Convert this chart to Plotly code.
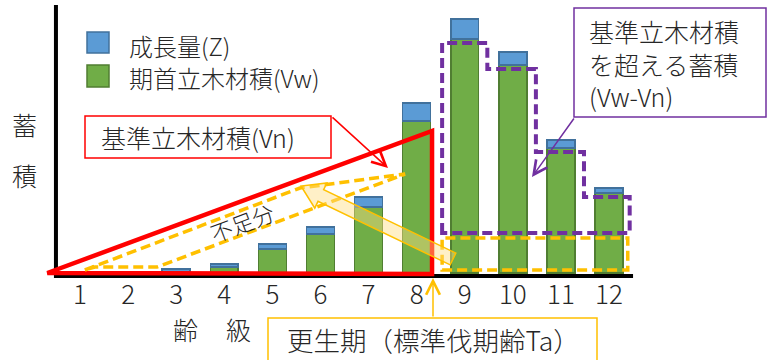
import numpy as np
import plotly.graph_objects as go

# ---- data (arbitrary volume units) ----
age_class = list(range(1, 13))
tick_labels = [str(i) for i in age_class]
vw_initial = [0, 0, 1, 6, 24, 39, 66, 152, 234, 208, 125, 80]   # 期首立木材積(Vw)
growth_z = [0, 0, 3, 3, 5, 7, 10, 18, 20, 13, 8, 5]             # 成長量(Z)
ta_class = 8.32          # 標準伐期齢 Ta position
vn_at_ta = 142           # 基準立木材積 at Ta
excess_base = 40         # base level of the excess outline
excess_edges = [8.53, 9.47, 10.48, 11.48, 12.43]

FONT = "Noto Sans CJK JP"
TXT = "#262626"
GREEN, GREEN_L = "#70AD47", "#507E32"
BLUE, BLUE_L = "#5B9BD5", "#41719C"
RED, PURPLE, GOLD = "#FF0000", "#7030A0", "#FFC000"

W, H = 771, 360
ML, MR, MT, MB = 40, 111, 0, 80
PW, PH = W - ML - MR, H - MT - MB

# axis ranges: category 1 at px 80, category 12 at px 609, value 0 at py 273
scale = (609 - 80) / 11
x0 = 1 - (80 - ML) / scale
x1 = x0 + PW / scale
y_top = 273 - MT
y_bot = 273 - (MT + PH)


def P(px, py):
    return (px - ML) / PW, (MT + PH - py) / PH


fig = go.Figure()
fig.add_trace(go.Bar(x=age_class, y=vw_initial, name="期首立木材積(Vw)", width=0.58,
                     marker=dict(color=GREEN, line=dict(color=GREEN_L, width=1.5))))
fig.add_trace(go.Bar(x=age_class, y=growth_z, name="成長量(Z)", width=0.58,
                     marker=dict(color=BLUE, line=dict(color=BLUE_L, width=1.5))))

shapes = []
# black axes
shapes.append(dict(type="line", xref="x", yref="y", x0=0.5, x1=12.5, y0=-3, y1=-3,
                   line=dict(color="black", width=4)))
shapes.append(dict(type="line", xref="x", yref="y", x0=0.5, x1=0.5, y0=-5, y1=268,
                   line=dict(color="black", width=4)))
# Vn triangle
shapes.append(dict(type="path", xref="x", yref="y",
                   path=f"M 0.32,0 L {ta_class},{vn_at_ta} L {ta_class},-1 L 0.32,0 Z",
                   line=dict(color=RED, width=4.5)))
# shortfall dashed outline
short_pts = [(1.10, 3), (5.575, 85), (7.76, 99), (2.60, 6), (1.31, 6)]
shapes.append(dict(type="path", xref="x", yref="y",
                   path="M " + " L ".join(f"{a},{b}" for a, b in short_pts) + " Z",
                   line=dict(color=GOLD, width=3.5, dash="10px,5px")))
# yellow dashed rectangle (bottom part after Ta)
shapes.append(dict(type="rect", xref="x", yref="y", x0=8.53, x1=12.39, y0=3, y1=35,
                   line=dict(color=GOLD, width=3.5, dash="10px,5px")))
# purple dashed excess outline derived from bar tops
tops = [vw_initial[i] - 4 for i in range(8, 12)]
pp = [f"M {excess_edges[0]},{excess_base}", f"L {excess_edges[0]},{tops[0]}"]
for k in range(4):
    pp.append(f"L {excess_edges[k + 1]},{tops[k]}")
    if k < 3:
        pp.append(f"L {excess_edges[k + 1]},{tops[k + 1]}")
pp.append(f"L {excess_edges[4]},{excess_base} Z")
shapes.append(dict(type="path", xref="x", yref="y", path=" ".join(pp),
                   line=dict(color=PURPLE, width=4, dash="10px,5px")))

# block arrow (pixel geometry -> paper)
tail = np.array([453.0, 259.0]); tip = np.array([301.0, 186.0])
u = (tip - tail) / np.linalg.norm(tip - tail)
n = np.array([-u[1], u[0]])
w, h, L = 6.5, 14.0, 22.0
neck = tip - u * L
poly = [tail + n * w, neck + n * w, neck + n * h, tip, neck - n * h, neck - n * w, tail - n * w]
path = "M " + " L ".join("{:.4f},{:.4f}".format(*P(*p)) for p in poly) + " Z"
shapes.append(dict(type="path", xref="paper", yref="paper", path=path,
                   fillcolor="rgba(255,222,130,0.45)", line=dict(color=GOLD, width=1.5)))


def box(px0, py0, px1, py1, color):
    a, b = P(px0, py1)
    c, d = P(px1, py0)
    shapes.append(dict(type="rect", xref="paper", yref="paper", x0=a, x1=c, y0=b, y1=d,
                       fillcolor="white", line=dict(color=color, width=1.5)))


box(85, 116, 331, 158, RED)
box(574, 8, 766, 117, PURPLE)
box(268, 318, 597, 380, GOLD)

# legend squares
for (py0, py1, c, lc) in [(32, 53, BLUE, BLUE_L), (65, 87, GREEN, GREEN_L)]:
    a, b = P(87, py1)
    c2, d = P(109, py0)
    shapes.append(dict(type="rect", xref="paper", yref="paper", x0=a, x1=c2, y0=b, y1=d,
                       fillcolor=c, line=dict(color=lc, width=1.5)))

ann = []


def text(px, py, s, size=26, xanchor="left", angle=0, align="left"):
    x, y = P(px, py)
    ann.append(dict(xref="paper", yref="paper", x=x, y=y, text=s, showarrow=False,
                    xanchor=xanchor, yanchor="middle", align=align, textangle=angle,
                    borderpad=0,
                    font=dict(family=FONT, size=size, color=TXT, weight=300)))


def arrow(tx, ty, hx, hy, color):
    x, y = P(hx, hy)
    ann.append(dict(xref="paper", yref="paper", x=x, y=y, text="", showarrow=True,
                    axref="pixel", ayref="pixel", ax=tx - hx, ay=ty - hy,
                    arrowhead=5, arrowsize=1.8, arrowwidth=1.5, arrowcolor=color,
                    standoff=0, startstandoff=0))


text(128, 46, "成長量(Z)", size=24)
text(128, 77, "期首立木材積(Vw)", size=24)
text(24, 124, "蓄", size=25, xanchor="center")
text(24, 175, "積", size=25, xanchor="center")
text(185, 329, "齢", size=25, xanchor="center")
text(238, 329, "級", size=25, xanchor="center")
text(100, 137, "基準立木材積(Vn)", size=25)
text(588, 64, "基準立木材積<br>を超える蓄積<br>(Vw-Vn)", size=25)
text(286, 339, "更生期（標準伐期齢Ta）", size=26.5)
text(242, 222, "不足分", size=22, xanchor="center", angle=-20.5)

arrow(331, 116, 388, 168, RED)
arrow(575, 117, 532, 177, PURPLE)
arrow(433, 318, 433, 278, GOLD)

fig.update_layout(
    width=W, height=H, margin=dict(l=ML, r=MR, t=MT, b=MB),
    plot_bgcolor="white", paper_bgcolor="white",
    barmode="stack", showlegend=False,
    shapes=shapes, annotations=ann,
    xaxis=dict(range=[x0, x1], tickvals=age_class, ticktext=tick_labels,
               showgrid=False, zeroline=False, showline=False, ticks="",
               ticklabelstandoff=-3,
               tickfont=dict(family=FONT, size=26, color=TXT, weight=300), fixedrange=True),
    yaxis=dict(range=[y_bot, y_top], visible=False, fixedrange=True),
)
fig.write_html("out.html")
